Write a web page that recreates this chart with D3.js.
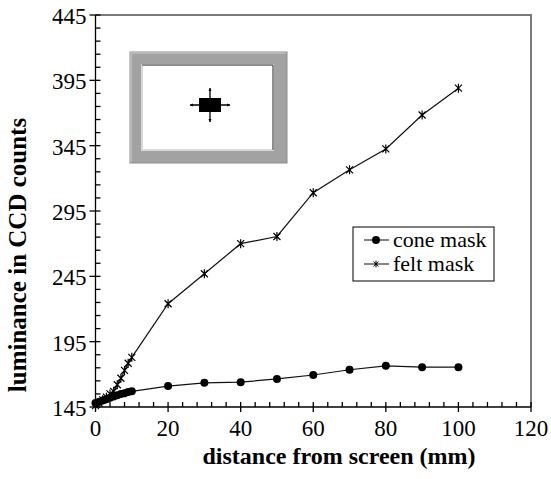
<!DOCTYPE html>
<html>
<head>
<meta charset="utf-8">
<script src="https://cdn.jsdelivr.net/npm/d3@7"></script>
<style>
  html, body { margin: 0; padding: 0; background: #fff; }
</style>
</head>
<body>
<svg id="chart" width="551" height="479" style="font-family: 'Liberation Serif', serif;"></svg>
<script>
// luminance vs distance from screen, two mask types
const coneX = [0, 1, 2, 3, 4, 5, 6, 7, 8, 9, 10, 20, 30, 40, 50, 60, 70, 80, 90, 100];
const coneY = [148, 149, 150, 151, 152, 153, 154, 155, 155.5, 156.5, 157, 161, 163.5, 164, 166.5, 169.5, 173.5, 176.5, 175.5, 175.5];
const feltX = [0, 1, 2, 3, 4, 5, 6, 7, 8, 9, 10, 20, 30, 40, 50, 60, 70, 80, 90, 100];
const feltY = [146, 148, 150.5, 152.5, 155, 157, 162, 167, 173, 178.5, 183, 224, 247, 270, 275.5, 309, 326.5, 342.5, 368.5, 389];
const xTicks = [0, 20, 40, 60, 80, 100, 120];
const yTicks = [145, 195, 245, 295, 345, 395, 445];
const seriesNames = ["cone mask", "felt mask"];

// inline style so nothing else overrides the face
const FONT = "'Liberation Serif', 'Times New Roman', serif";
const svg = d3.select("#chart");
const plotL = 95.5, plotR = 531, plotT = 15, plotB = 407;

const x = d3.scaleLinear().domain([0, 120]).range([plotL, plotR]);
const y = d3.scaleLinear().domain([145, 445]).range([plotB, plotT]);

// frame: top and right are grey, axes black
svg.append("path")
  .attr("d", `M${plotL},${plotT}H${plotR}V${plotB}`)
  .attr("fill", "none").attr("stroke", "#7a7a7a").attr("stroke-width", 2);

// inset sketch of the screen with the square target
const inset = svg.append("g");
const ox0 = 130, oy0 = 52, ox1 = 287, oy1 = 163;
inset.append("rect").attr("x", ox0).attr("y", oy0).attr("width", ox1 - ox0).attr("height", oy1 - oy0)
  .attr("fill", "#a2a2a2").attr("stroke", "#8c8c8c").attr("stroke-width", 1);
inset.append("path").attr("d", `M${ox0 + 1},${oy1 - 1}V${oy0 + 1}H${ox1 - 1}`)
  .attr("fill", "none").attr("stroke", "#b8b8b8").attr("stroke-width", 2);
inset.append("rect").attr("x", 142).attr("y", 65).attr("width", 131).attr("height", 85)
  .attr("fill", "#fff").attr("stroke", "#d8d8d8").attr("stroke-width", 2);
inset.append("path").attr("d", "M142,65H273V150")
  .attr("fill", "none").attr("stroke", "#444").attr("stroke-width", 1);
inset.append("rect").attr("x", 199).attr("y", 98).attr("width", 22).attr("height", 14).attr("fill", "#000");
const ac = [210, 105];
inset.append("path")
  .attr("d", `M${ac[0] - 11},${ac[1]}H${ac[0] - 20}M${ac[0] + 11},${ac[1]}H${ac[0] + 20}M${ac[0]},${ac[1] - 7}V${ac[1] - 17}M${ac[0]},${ac[1] + 7}V${ac[1] + 17}`)
  .attr("stroke", "#000").attr("stroke-width", 1.3);
inset.append("path")
  .attr("d", `M${ac[0] - 20},${ac[1]}l3,-1.5v3zM${ac[0] + 20},${ac[1]}l-3,-1.5v3zM${ac[0]},${ac[1] - 17}l-1.5,3h3zM${ac[0]},${ac[1] + 17}l-1.5,-3h3z`)
  .attr("fill", "#000");

// axes with crossing major ticks and inward minor ticks
const axisG = svg.append("g").attr("stroke", "#000").attr("stroke-width", 1.3);
axisG.append("line").attr("x1", plotL).attr("x2", plotR).attr("y1", plotB).attr("y2", plotB);
axisG.append("line").attr("x1", plotL).attr("x2", plotL).attr("y1", plotT).attr("y2", plotB);

d3.range(0, 121, 4).forEach((v) => {
  const major = v % 20 === 0;
  axisG.append("line").attr("x1", x(v)).attr("x2", x(v))
    .attr("y1", major ? plotB + 5 : plotB).attr("y2", plotB - 5);
});
d3.range(145, 446, 10).forEach((v) => {
  const major = (v - 145) % 50 === 0;
  axisG.append("line").attr("y1", y(v)).attr("y2", y(v))
    .attr("x1", major ? plotL - 6 : plotL).attr("x2", plotL + 5);
});

svg.append("g").selectAll("text").data(xTicks).join("text")
  .attr("x", (d) => x(d)).attr("y", plotB + 29)
  .style("font-family", FONT).style("font-size", "23px")
  .attr("text-anchor", "middle").text((d) => d);
svg.append("g").selectAll("text").data(yTicks).join("text")
  .attr("x", plotL - 9).attr("y", (d) => y(d) + 9)
  .style("font-family", FONT).style("font-size", "23px")
  .attr("text-anchor", "end").text((d) => d);

svg.append("text").attr("x", 339).attr("y", 464).attr("text-anchor", "middle")
  .style("font-family", FONT).style("font-size", "24px").style("font-weight", "bold")
  .text("distance from screen (mm)");
svg.append("text").attr("transform", "translate(26,255) rotate(-90)").attr("text-anchor", "middle")
  .style("font-family", FONT).style("font-size", "25px").style("font-weight", "bold")
  .text("luminance in CCD counts");

// series
const cone = coneX.map((v, i) => [v, coneY[i]]);
const felt = feltX.map((v, i) => [v, feltY[i]]);
const line = d3.line().x((d) => x(d[0])).y((d) => y(d[1]));

svg.append("path").datum(felt).attr("d", line)
  .attr("fill", "none").attr("stroke", "#111").attr("stroke-width", 1.2);
svg.append("path").datum(cone).attr("d", line)
  .attr("fill", "none").attr("stroke", "#111").attr("stroke-width", 1.2);

const star = (s) => `M${-s},${-s}L${s},${s}M${-s},${s}L${s},${-s}M0,${-s - 1}V${s + 1}`;
svg.append("g").selectAll("path").data(felt).join("path")
  .attr("transform", (d) => `translate(${x(d[0])},${y(d[1])})`)
  .attr("d", star(3.5)).attr("stroke", "#000").attr("stroke-width", 1.2).attr("fill", "none");
svg.append("g").selectAll("circle").data(cone).join("circle")
  .attr("cx", (d) => x(d[0])).attr("cy", (d) => y(d[1])).attr("r", 4).attr("fill", "#000");

// legend
const lg = svg.append("g");
lg.append("rect").attr("x", 353).attr("y", 227).attr("width", 141).attr("height", 54)
  .attr("fill", "#fff").attr("stroke", "#000").attr("stroke-width", 1);
seriesNames.forEach((name, i) => {
  const ly = 240 + i * 24;
  lg.append("line").attr("x1", 364).attr("x2", 389).attr("y1", ly).attr("y2", ly)
    .attr("stroke", "#333").attr("stroke-width", 1.2);
  if (i === 0) {
    lg.append("circle").attr("cx", 376).attr("cy", ly).attr("r", 4).attr("fill", "#000");
  } else {
    lg.append("path").attr("transform", `translate(376,${ly})`).attr("d", star(2.5))
      .attr("stroke", "#000").attr("stroke-width", 1).attr("fill", "none");
  }
  lg.append("text").attr("x", 393).attr("y", ly + 7)
    .style("font-family", FONT).style("font-size", "22px").text(name);
});
</script>
</body>
</html>
